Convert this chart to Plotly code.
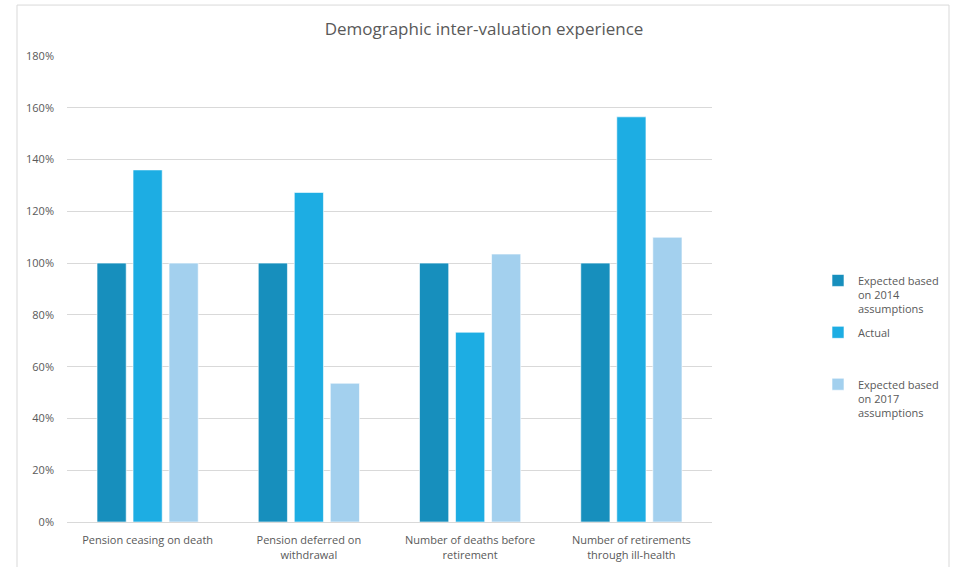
import plotly.graph_objects as go

categories = ["Pension ceasing on death", "Pension deferred on<br>withdrawal",
              "Number of deaths before<br>retirement", "Number of retirements<br>through ill-health"]
series_names = ["Expected based<br>on 2014<br>assumptions", "Actual<br>\u00a0<br>\u00a0",
                "Expected based<br>on 2017<br>assumptions"]
expected_2014 = [1.00, 1.00, 1.00, 1.00]
actual = [1.36, 1.273, 0.733, 1.565]
expected_2017 = [1.00, 0.536, 1.035, 1.10]
colors = ["#178FBD", "#1DADE3", "#A3D0EE"]

fig = go.Figure()
for i, (name, vals, col) in enumerate(zip(series_names, [expected_2014, actual, expected_2017], colors)):
    fig.add_trace(go.Bar(x=categories, y=vals, name=name, legendgroup=f"g{i}",
                         marker=dict(color=col, line=dict(color="rgba(255,255,255,0.6)", width=1))))

W, H = 953, 567
L, R, T, B = 67, 712, 56, 522.5
pw, ph = R - L, B - T

fig.update_layout(
    width=W, height=H,
    margin=dict(l=L, r=W - R, t=T, b=H - B, autoexpand=False),
    paper_bgcolor="white", plot_bgcolor="white",
    barmode="group", bargap=0.33, bargroupgap=0.19,
    font=dict(family="Open Sans", color="#595959", size=11),
    title=dict(text="Demographic inter-valuation experience", x=484 / W, xanchor="center",
               y=1 - 29 / H, yanchor="middle", font=dict(size=17, color="#595959")),
    yaxis=dict(range=[0, 1.8], dtick=0.2, tickformat=".0%", gridcolor="#D9D9D9", gridwidth=1,
               zeroline=False, showline=False, ticks="", ticklabelstandoff=12,
               tickfont=dict(size=11, color="#595959")),
    xaxis=dict(showline=True, linecolor="#D9D9D9", linewidth=1, ticks="", ticklabelstandoff=8,
               tickfont=dict(size=11, color="#595959")),
    legend=dict(x=(818 - L) / pw, xanchor="left", y=(B - 267) / ph, yanchor="top",
                valign="top", font=dict(size=11, color="#595959"), itemwidth=30,
                tracegroupgap=6, bgcolor="rgba(0,0,0,0)"),
    shapes=[dict(type="rect", xref="paper", yref="paper",
                 x0=(17 - L) / pw, x1=(949 - L) / pw, y0=(B - 575) / ph, y1=(B - 5) / ph,
                 line=dict(color="#D9D9D9", width=1), fillcolor="rgba(0,0,0,0)", layer="below")],
)
fig.write_html("out.html", config={"displayModeBar": False})
